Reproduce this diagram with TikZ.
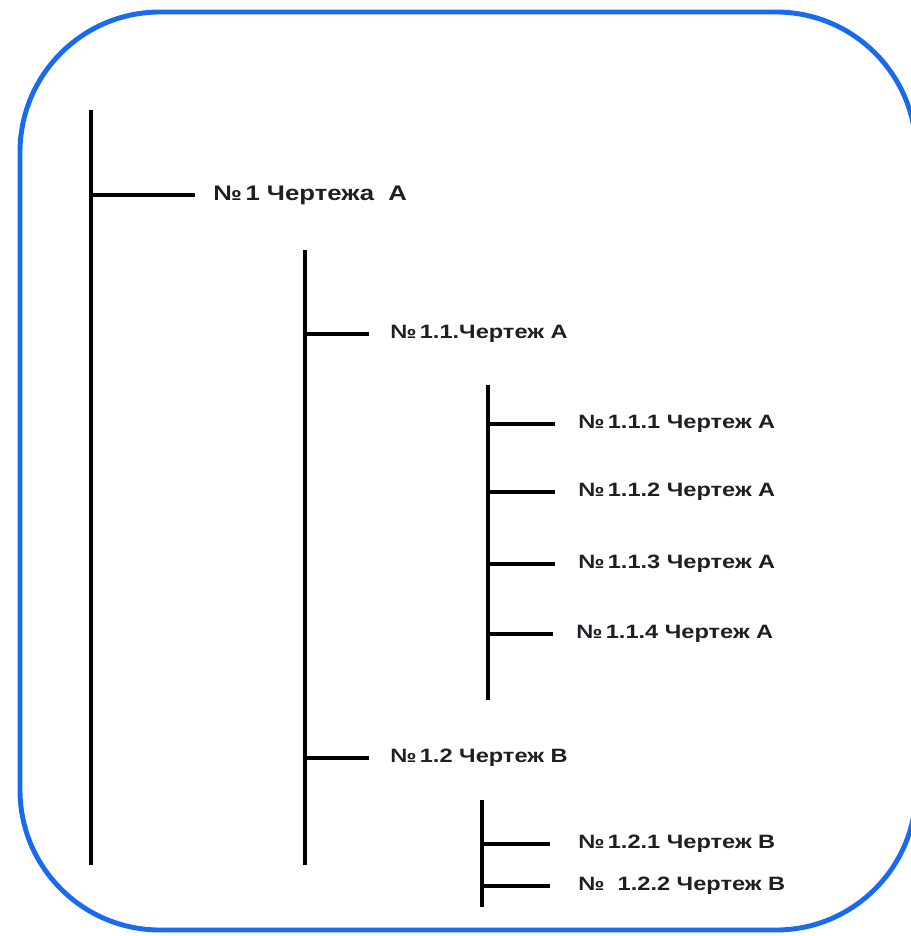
\documentclass[tikz,border=0pt]{standalone}
\usepackage{fontspec}
\setmainfont{Liberation Sans}
\newfontfamily\widebold[FakeStretch=1.22,BoldFont={Liberation Sans Bold}]{Liberation Sans}
\usetikzlibrary{positioning}
\definecolor{frameblue}{RGB}{24,106,240}
\definecolor{inkgray}{RGB}{30,30,36}

\begin{document}
\begin{tikzpicture}[x=0.02cm,y=-0.02cm,
  item/.style={anchor=west,inner sep=0pt,text=inkgray,font=\widebold\bfseries\fontsize{11}{13}\selectfont},
  topitem/.style={item,font=\widebold\bfseries\fontsize{12}{14}\selectfont},
  bar/.style={line width=1.8pt},
  twig/.style={line width=1.8pt,shorten >=11pt}]
  \useasboundingbox (0,0) rectangle (911,936);
  \draw[frameblue,line width=2.8pt,rounded corners=2.8cm] (20,12) rectangle (916,930);
  % stems
  \coordinate (t0) at (91,110);  \coordinate (b0) at (91,865);
  \coordinate (t1) at (305,250); \coordinate (b1) at (305,865);
  \coordinate (t2) at (488,385); \coordinate (b2) at (488,700);
  \coordinate (t3) at (482,800); \coordinate (b3) at (482,907);
  % labels
  \node[topitem] (n1) at (213,195) {№\hspace{2pt}1 Чертежа\ \ А};
  \node[item] (n11) at (390,334) {№\,1.1.Чертеж А};
  \node[item] (n111) at (578,424) {№\,1.1.1 Чертеж А};
  \node[item] (n112) at (578,492) {№\,1.1.2 Чертеж А};
  \node[item] (n113) at (578,564) {№\,1.1.3 Чертеж А};
  \node[item] (n114) at (576,634) {№\,1.1.4 Чертеж А};
  \node[item] (n12) at (390,758) {№\,1.2 Чертеж В};
  \node[item] (n121) at (578,844) {№\,1.2.1 Чертеж В};
  \node[item] (n122) at (578,886) {№\ \ 1.2.2 Чертеж В};
  \foreach \s in {0,1,2,3} \draw[bar] (t\s) -- (b\s);
  \draw[twig,shorten >=10pt] (t0 |- n1.west) -- (n1.west);
  \foreach \n in {n11,n12} \draw[twig,shorten >=12pt] (t1 |- \n.west) -- (\n.west);
  \foreach \n in {n111,n112,n113,n114} \draw[twig,shorten >=13pt] (t2 |- \n.west) -- (\n.west);
  \foreach \n in {n121,n122} \draw[twig,shorten >=16pt] (t3 |- \n.west) -- (\n.west);
\end{tikzpicture}
\end{document}
